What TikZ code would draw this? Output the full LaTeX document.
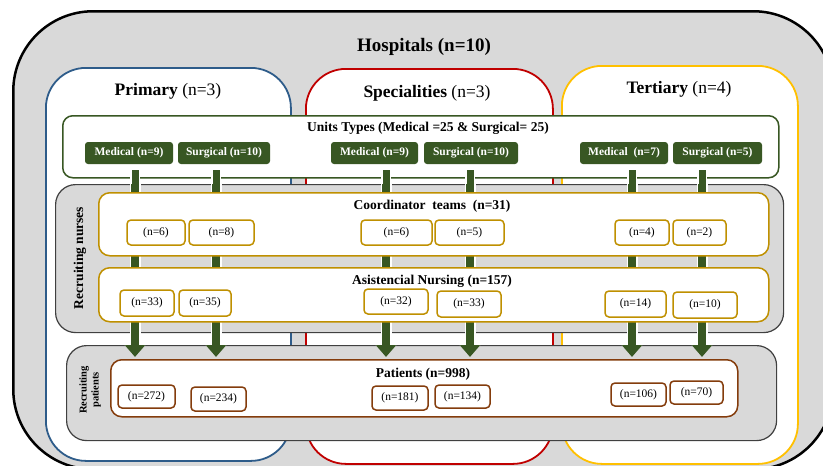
\documentclass[tikz,border=0pt]{standalone}
\usepackage{fontspec}
\setmainfont{Liberation Serif}
\usetikzlibrary{arrows.meta}

\definecolor{hgray}{HTML}{D9D9D9}
\definecolor{dgray}{HTML}{404040}
\definecolor{ugreen}{HTML}{385723}
\definecolor{pblue}{HTML}{2E5C8A}
\definecolor{sred}{HTML}{C00000}
\definecolor{tyellow}{HTML}{FFC000}
\definecolor{ngold}{HTML}{BF9000}
\definecolor{pbrown}{HTML}{843C0C}

\tikzset{
  level/.style={draw, line width=1.8pt, fill=white, rounded corners=40pt, anchor=north west, inner sep=0pt},
  band/.style={draw=dgray, line width=1.2pt, fill=hgray, rounded corners=20pt, anchor=north west, inner sep=0pt},
  panel/.style={draw, line width=1.5pt, fill=white, rounded corners=11pt, anchor=north west, inner sep=0pt},
  unitbox/.style={fill=ugreen, text=white, rounded corners=3pt, minimum height=22pt, inner sep=0pt,
    font=\fontsize{11.5}{13}\selectfont\bfseries},
  nbox/.style={draw=ngold, line width=1.5pt, fill=white, rounded corners=4pt, inner sep=0pt,
    font=\fontsize{11.5}{13}\selectfont},
  pbox/.style={nbox, draw=pbrown},
  head/.style={font=\fontsize{13.5}{15}\selectfont\bfseries},
  bar/.style={ugreen, line width=7pt, preaction={draw=white, line width=10pt}},
  flow/.style={ugreen, line width=8pt, -{Triangle[width=20pt,length=12pt]},
    preaction={draw=white, line width=11pt, -{Triangle[width=25pt,length=15pt]}}}
}

\begin{document}
\begin{tikzpicture}[x=1pt, y=-1pt]
\useasboundingbox (0,0) rectangle (823,466);
\clip (0,0) rectangle (823,466);

% hospitals
\node[draw=black, line width=2.5pt, fill=hgray, rounded corners=80pt, anchor=north west, inner sep=0pt,
  minimum width=820pt, minimum height=458pt] (hosp) at (12,10) {};
\node[font=\fontsize{19}{21}\selectfont\bfseries] (hosptitle) at (424,47) {Hospitals (n=10)};

% levels of care
\node[level, draw=pblue, minimum width=245pt, minimum height=393pt] (prim) at (45,67) {};
\node[level, draw=sred, minimum width=247pt, minimum height=395pt] (spec) at (305,68) {};
\node[level, draw=tyellow, minimum width=236pt, minimum height=398pt] (tert) at (561,65) {};
\node[font=\fontsize{17.5}{19}\selectfont] (primtitle) at (168,91) {\textbf{Primary} (n=3)};
\node[font=\fontsize{17.5}{19}\selectfont] (spectitle) at (427,93) {\textbf{Specialities} (n=3)};
\node[font=\fontsize{17.5}{19}\selectfont] (terttitle) at (679,89) {\textbf{Tertiary} (n=4)};

% units, recruiting bands
\node[panel, draw=ugreen, rounded corners=10pt, minimum width=716pt, minimum height=62pt] (units) at (62,115) {};
\node[head] (unitstitle) at (428,128) {Units Types (Medical =25 \& Surgical= 25)};
\node[band, minimum width=728pt, minimum height=148pt] (nurses) at (55,184) {};
\node[band, minimum width=710pt, minimum height=95pt] (patband) at (66,345) {};
\node[rotate=90, font=\fontsize{13.5}{15}\selectfont\bfseries] (nurlabel) at (80,258) {Recruiting nurses};
\node[rotate=90, align=center, font=\fontsize{10.5}{12}\selectfont\bfseries] (patlabel) at (90,390) {Recruiting\\patients};

% unit types
\node[unitbox, minimum width=88pt] (m1) at (129,153) {Medical (n=9)};
\node[unitbox, minimum width=92pt] (s1) at (224,153) {Surgical (n=10)};
\node[unitbox, minimum width=87pt] (m2) at (374.5,153) {Medical (n=9)};
\node[unitbox, minimum width=94pt] (s2) at (471,153) {Surgical (n=10)};
\node[unitbox, minimum width=88pt] (m3) at (624,153) {Medical~~(n=7)};
\node[unitbox, minimum width=89pt] (s3) at (717.5,153) {Surgical (n=5)};

% flows down to patients
\foreach \u/\dx in {m1/6, s1/-8, m2/11.5, s2/-1, m3/8, s3/-15.5} {
  \draw[bar] ([xshift=\dx pt, yshift=-6pt]\u.south) -- ([xshift=\dx pt]\u.south |- nurses.north);
  \draw[flow] ([xshift=\dx pt]\u.south |- nurses.north) -- ([xshift=\dx pt, yshift=-12pt]\u.south |- patband.north);
}

% coordinators and nursing
\node[panel, draw=ngold, minimum width=670pt, minimum height=63pt] (coord) at (98,192) {};
\node[head] (coordtitle) at (432,206) {Coordinator~~teams~~(n=31)};
\node[panel, draw=ngold, minimum width=670pt, minimum height=54pt] (asist) at (98,267) {};
\node[head] (asisttitle) at (432,281) {Asistencial Nursing (n=157)};

\node[nbox, minimum width=58pt, minimum height=25pt] (c1) at (156,232.5) {(n=6)};
\node[nbox, minimum width=65pt, minimum height=25pt] (c2) at (221.5,232.5) {(n=8)};
\node[nbox, minimum width=71pt, minimum height=25pt] (c3) at (396.5,232.5) {(n=6)};
\node[nbox, minimum width=69pt, minimum height=25pt] (c4) at (469.5,232.5) {(n=5)};
\node[nbox, minimum width=54pt, minimum height=25pt] (c5) at (642,232.5) {(n=4)};
\node[nbox, minimum width=53pt, minimum height=25pt] (c6) at (699.5,232.5) {(n=2)};

\node[nbox, minimum width=54pt, minimum height=26pt] (a1) at (147,303) {(n=33)};
\node[nbox, minimum width=52pt, minimum height=26pt] (a2) at (205,303) {(n=35)};
\node[nbox, minimum width=64pt, minimum height=25pt] (a3) at (396,301.5) {(n=32)};
\node[nbox, minimum width=64pt, minimum height=26pt] (a4) at (469,304) {(n=33)};
\node[nbox, minimum width=61pt, minimum height=26pt] (a5) at (635.5,304) {(n=14)};
\node[nbox, minimum width=64pt, minimum height=26pt] (a6) at (705,305) {(n=10)};

% patients
\node[panel, draw=pbrown, minimum width=627pt, minimum height=57pt] (pat) at (110,359) {};
\node[head] (pattitle) at (423,374) {Patients (n=998)};

\node[pbox, minimum width=57pt, minimum height=23pt] (p1) at (146.5,396.5) {(n=272)};
\node[pbox, minimum width=55pt, minimum height=24pt] (p2) at (218.5,399) {(n=234)};
\node[pbox, minimum width=56pt, minimum height=24pt] (p3) at (400,398) {(n=181)};
\node[pbox, minimum width=55pt, minimum height=23pt] (p4) at (462.5,396.5) {(n=134)};
\node[pbox, minimum width=55pt, minimum height=23pt] (p5) at (638.5,394.5) {(n=106)};
\node[pbox, minimum width=53pt, minimum height=23pt] (p6) at (696.5,392.5) {(n=70)};
\end{tikzpicture}
\end{document}
